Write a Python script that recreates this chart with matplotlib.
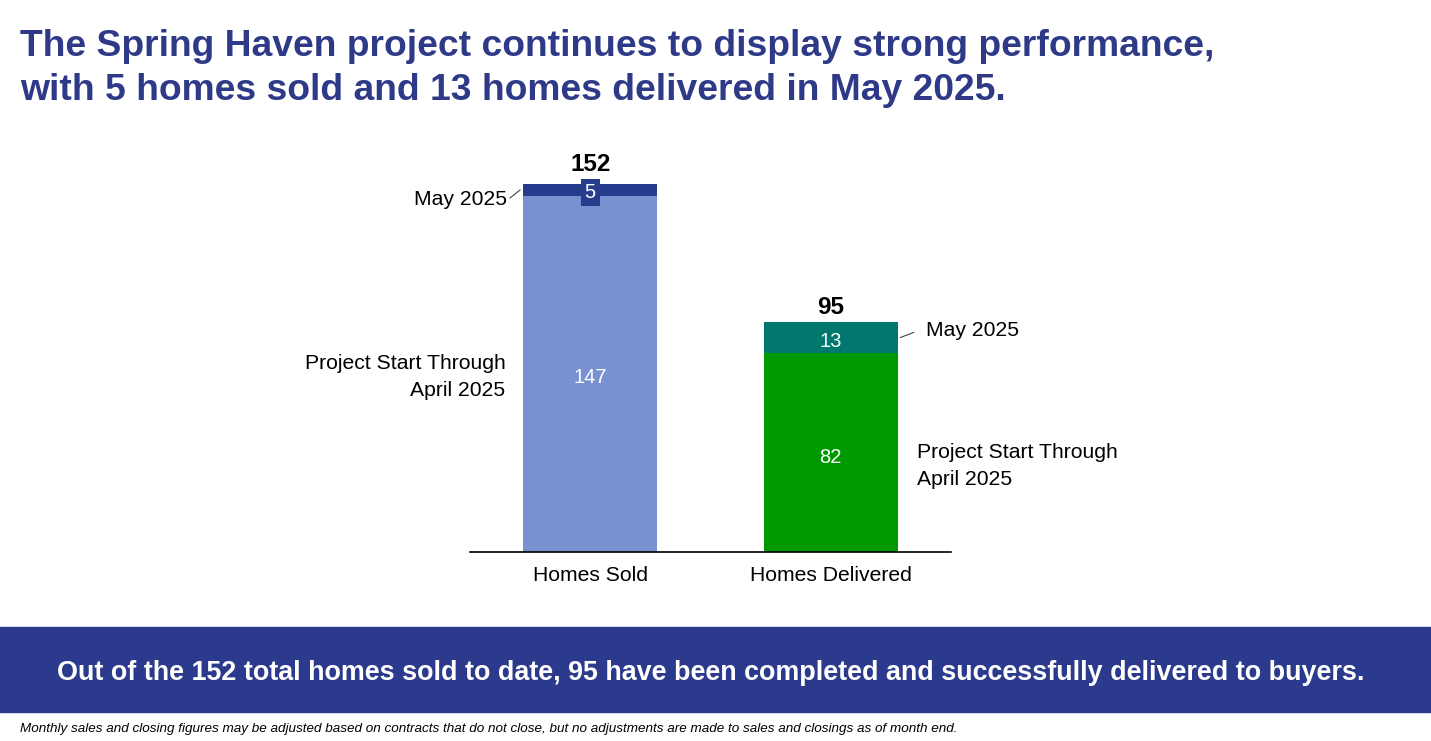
import numpy as np
import matplotlib.pyplot as plt
from matplotlib.patches import Rectangle

plt.rcParams['font.family'] = ['Liberation Sans', 'DejaVu Sans']

# data
categories = ['Homes Sold', 'Homes Delivered']
through_april = [147, 82]
may_2025 = [5, 13]
totals = [a + b for a, b in zip(through_april, may_2025)]

title = ('The Spring Haven project continues to display strong performance,\n'
         'with 5 homes sold and 13 homes delivered in May 2025.')
banner = ('Out of the 152 total homes sold to date, 95 have been completed '
          'and successfully delivered to buyers.')
footnote = ('Monthly sales and closing figures may be adjusted based on contracts that do not close, '
            'but no adjustments are made to sales and closings as of month end.')

navy = '#2B3A8C'
low_colors = ['#7891D0', '#009A00']
top_colors = ['#263C8C', '#00786E']

W, H = 1431, 741
fig = plt.figure(figsize=(W / 100, H / 100), dpi=100)
fig.patch.set_facecolor('white')

# axes placed in pixel terms: x 470..951, baseline y=552, 152 at y=184
ax = fig.add_axes([470 / W, (H - 552) / H, 481 / W, (552 - 184) / H])
x = np.arange(len(categories))
width = 0.556
ax.bar(x, through_april, width, color=low_colors, zorder=2)
ax.bar(x, may_2025, width, bottom=through_april, color=top_colors, zorder=2)
ax.set_xlim(-0.5, 1.5)
ax.set_ylim(0, max(totals))
for s in ['top', 'right', 'left']:
    ax.spines[s].set_visible(False)
ax.spines['bottom'].set_linewidth(1.2)
ax.set_yticks([])
ax.set_xticks(x)
ax.set_xticklabels(categories, fontsize=15.2)
ax.tick_params(axis='x', length=0, pad=10)

# value labels inside the bars
ax.text(x[0], 72.0, str(through_april[0]), color='white',
        ha='center', va='center', fontsize=14.5)
ax.text(x[1], 38.9, str(through_april[1]), color='white',
        ha='center', va='center', fontsize=14.5)
ax.text(x[0], 148.5, str(may_2025[0]), color='white',
        ha='center', va='center', fontsize=14.5,
        bbox=dict(boxstyle='square,pad=0.2', fc=top_colors[0], ec='none'))
ax.text(x[1], 86.8, str(may_2025[1]), color='white',
        ha='center', va='center', fontsize=14.5)

# totals above the bars
ax.text(x[0], 159.9, str(totals[0]), ha='center', va='center', fontsize=17.5,
        fontweight='bold', color='black', clip_on=False)
ax.text(x[1], 100.8, str(totals[1]), ha='center', va='center', fontsize=17.5,
        fontweight='bold', color='black', clip_on=False)

# side labels
ax.text(-0.347, 145.5, 'May 2025', ha='right', va='center', fontsize=15.2, clip_on=False)
ax.plot([-0.334, -0.292], [146.2, 149.5], color='#444444', lw=0.8, clip_on=False)
ax.text(-0.352, 72.3, 'Project Start Through\nApril 2025', ha='right', va='center',
        fontsize=15.2, linespacing=1.53, clip_on=False)
ax.text(1.397, 91.6, 'May 2025', ha='left', va='center', fontsize=15.2, clip_on=False)
ax.plot([1.29, 1.345], [88.6, 90.7], color='#444444', lw=0.8, clip_on=False)
ax.text(1.36, 35.6, 'Project Start Through\nApril 2025', ha='left', va='center',
        fontsize=15.2, linespacing=1.5, clip_on=False)

# title
fig.text(20 / W, 1 - 68.5 / H, title, ha='left', va='center', fontsize=26.8,
         fontweight='bold', color='#2E3A87', linespacing=1.31)

# banner
fig.add_artist(Rectangle((0, (H - 712) / H), 1, 85 / H, transform=fig.transFigure,
                         color=navy, zorder=0))
fig.text(0.5 * (56 + 1366) / W, 1 - 673 / H, banner, ha='center', va='center',
         fontsize=19.4, fontweight='bold', color='white')

# footnote
fig.text(20 / W, 1 - 729 / H, footnote, ha='left', va='center', fontsize=9.7,
         fontstyle='italic', color='black')

fig.savefig('out.png', dpi=100)
